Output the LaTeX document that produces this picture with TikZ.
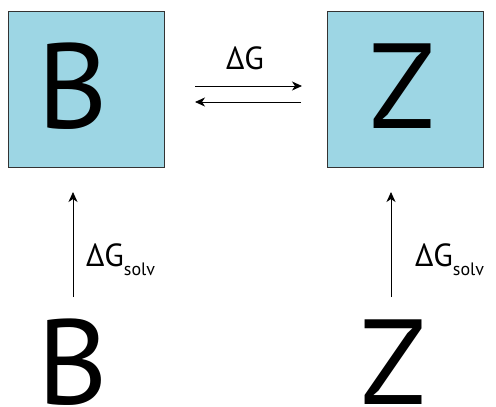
\documentclass[tikz,border=0pt]{standalone}
\usepackage{fontspec}
\setmainfont{PT Sans}
\usetikzlibrary{arrows.meta}
\definecolor{boxblue}{RGB}{157,214,228}
\tikzset{
  statebox/.style={draw=black!80, line width=0.8pt, fill=boxblue, minimum size=156pt, inner sep=0pt},
  bigletter/.style={inner sep=0pt, font=\fontsize{121}{121}\selectfont},
  energy/.style={inner sep=0pt, font=\fontsize{32}{32}\selectfont},
  flow/.style={line width=0.9pt, -{Stealth[length=10pt,width=9pt,inset=3pt]}}
}
\newcommand{\solvsub}{\raisebox{-9pt}{\fontsize{18}{18}\selectfont solv}}
\begin{document}
\begin{tikzpicture}[x=1pt,y=-1pt]
\useasboundingbox (0,0) rectangle (496,407);
% boxed (reaction) states
\node[statebox] (boxB) at (86,89) {};
\node[statebox] (boxZ) at (405,89) {};
\node[bigletter, anchor=base] (lB) at (72.5,128) {B};
\node[bigletter, anchor=base] (lZ) at (402,128) {Z};
% equilibrium arrows
\coordinate (f1) at (195,86);
\coordinate (f2) at (302,86);
\coordinate (r1) at (301,102);
\coordinate (r2) at (195,102);
\draw[flow] (f1) -- (f2);
\draw[flow] (r1) -- (r2);
\node[energy, anchor=base] (dG) at (245,69) {ΔG};
% solvated states
\node[bigletter, anchor=base] (sB) at (72.5,404) {B};
\node[bigletter, anchor=base] (sZ) at (393,404) {Z};
\coordinate (a1) at (73,297);
\coordinate (a2) at (73,192);
\coordinate (b1) at (391,297);
\coordinate (b2) at (391,192);
\draw[flow] (a1) -- (a2);
\draw[flow] (b1) -- (b2);
\node[energy, anchor=base west] (gB) at (86,266) {ΔG\solvsub};
\node[energy, anchor=base west] (gZ) at (415,266) {ΔG\solvsub};
\end{tikzpicture}
\end{document}
